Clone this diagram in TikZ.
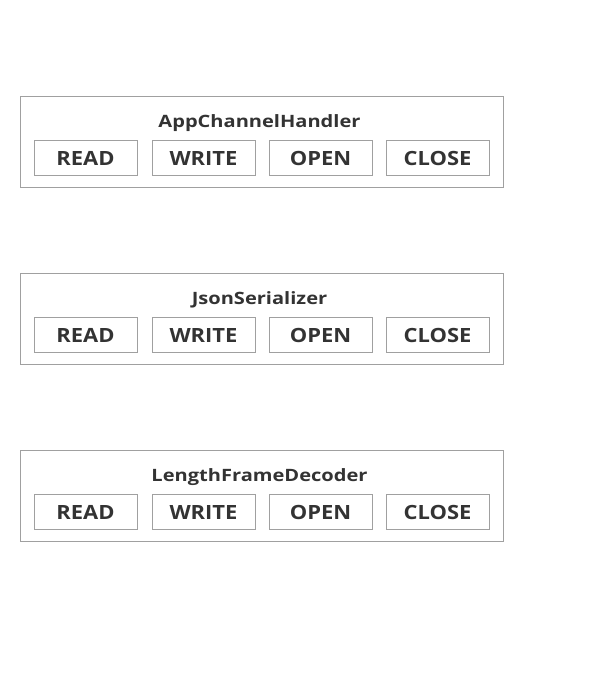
\documentclass[tikz,border=0pt]{standalone}
\usepackage{fontspec}
\setmainfont{Open Sans}
\newfontfamily\titlefont[FakeStretch=1.18]{Open Sans}
\newfontfamily\buttonfont[FakeStretch=1.12]{Open Sans}
\usetikzlibrary{positioning}
\definecolor{edgegray}{HTML}{A0A0A0}
\definecolor{textgray}{HTML}{333333}
\tikzset{
  layer/.style={draw=edgegray, line width=0.9pt, minimum width=483.5pt, minimum height=91pt, inner sep=0pt},
  title/.style={anchor=base, text=textgray, font=\titlefont\fontsize{17}{20}\selectfont\bfseries},
  button/.style={draw=edgegray, line width=0.9pt, minimum width=103pt, minimum height=35pt, inner sep=0pt,
    text height=15.6pt, text depth=0pt,
    text=textgray, font=\buttonfont\fontsize{19.6}{22}\selectfont\bfseries}
}
\begin{document}
\begin{tikzpicture}[x=1pt, y=-1pt]
      \useasboundingbox (0, 0) rectangle (604, 676);

      \node [layer] (app) at (261.75, 142) {};
      \node [title] (appname) at (259.5, 127.3) {AppChannelHandler};
      \node [button] (appread) at (85.5, 157.5) {READ};
      \node [button] (appwrite) at (203.5, 157.5) {WRITE};
      \node [button] (appopen) at (320.5, 157.5) {OPEN};
      \node [button] (appclose) at (437.5, 157.5) {CLOSE};

      \node [layer] (json) at (261.75, 319) {};
      \node [title] (jsonname) at (259.5, 304.3) {JsonSerializer};
      \node [button] (jsonread) at (85.5, 334.5) {READ};
      \node [button] (jsonwrite) at (203.5, 334.5) {WRITE};
      \node [button] (jsonopen) at (320.5, 334.5) {OPEN};
      \node [button] (jsonclose) at (437.5, 334.5) {CLOSE};

      \node [layer] (frame) at (261.75, 496) {};
      \node [title] (framename) at (259.5, 481.3) {LengthFrameDecoder};
      \node [button] (frameread) at (85.5, 511.5) {READ};
      \node [button] (framewrite) at (203.5, 511.5) {WRITE};
      \node [button] (frameopen) at (320.5, 511.5) {OPEN};
      \node [button] (frameclose) at (437.5, 511.5) {CLOSE};
    \end{tikzpicture}
\end{document}
